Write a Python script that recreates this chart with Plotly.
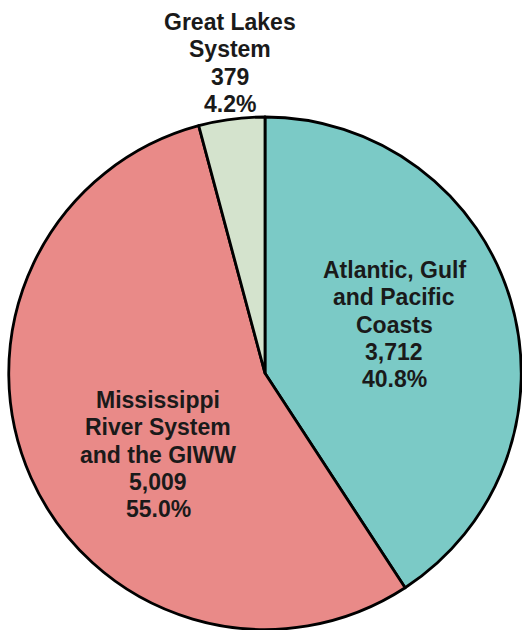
import plotly.graph_objects as go

# ---- data ----
categories = ["Atlantic, Gulf and Pacific Coasts",
              "Mississippi River System and the GIWW",
              "Great Lakes System"]
values = [3712, 5009, 379]
label_lines = [["Atlantic, Gulf", "and Pacific", "Coasts"],
               ["Mississippi", "River System", "and the GIWW"],
               ["Great Lakes", "System"]]
colors = ["#7BCAC6", "#E98A88", "#D4E3CD"]

# ---- layout constants (pixels) ----
W, H = 522, 630
label_centers_px = [(394, 270), (158, 400), (230, 22)]  # center x, first-line y
line_step = 27.3
FONT = dict(family="Liberation Sans, Arial, sans-serif", size=23, color="#1a1a1a")

total = sum(values)

fig = go.Figure(go.Pie(
    labels=categories,
    values=values,
    sort=False,
    direction="clockwise",
    rotation=0,
    textinfo="none",
    hoverinfo="label+value+percent",
    marker=dict(colors=colors, line=dict(color="black", width=2.8)),
    domain=dict(x=[8.5 / W, 521.5 / W], y=[1 - 629.5 / H, 1 - 117 / H]),
    showlegend=False,
))

annotations = []
for lines, v, (cx, cy) in zip(label_lines, values, label_centers_px):
    texts = lines + [f"{v:,}", f"{v / total * 100:.1f}%"]
    for i, t in enumerate(texts):
        annotations.append(dict(
            x=cx / W, y=1 - (cy + i * line_step) / H,
            xref="paper", yref="paper",
            text=f"<b>{t}</b>", showarrow=False,
            xanchor="center", yanchor="middle",
            font=FONT,
        ))

fig.update_layout(
    width=W, height=H,
    margin=dict(l=0, r=0, t=0, b=0),
    paper_bgcolor="white",
    plot_bgcolor="white",
    annotations=annotations,
)

fig.write_html(
    "out.html",
    config={"displayModeBar": False},
    post_script="document.body.style.margin='0';document.body.style.overflow='hidden';",
)
